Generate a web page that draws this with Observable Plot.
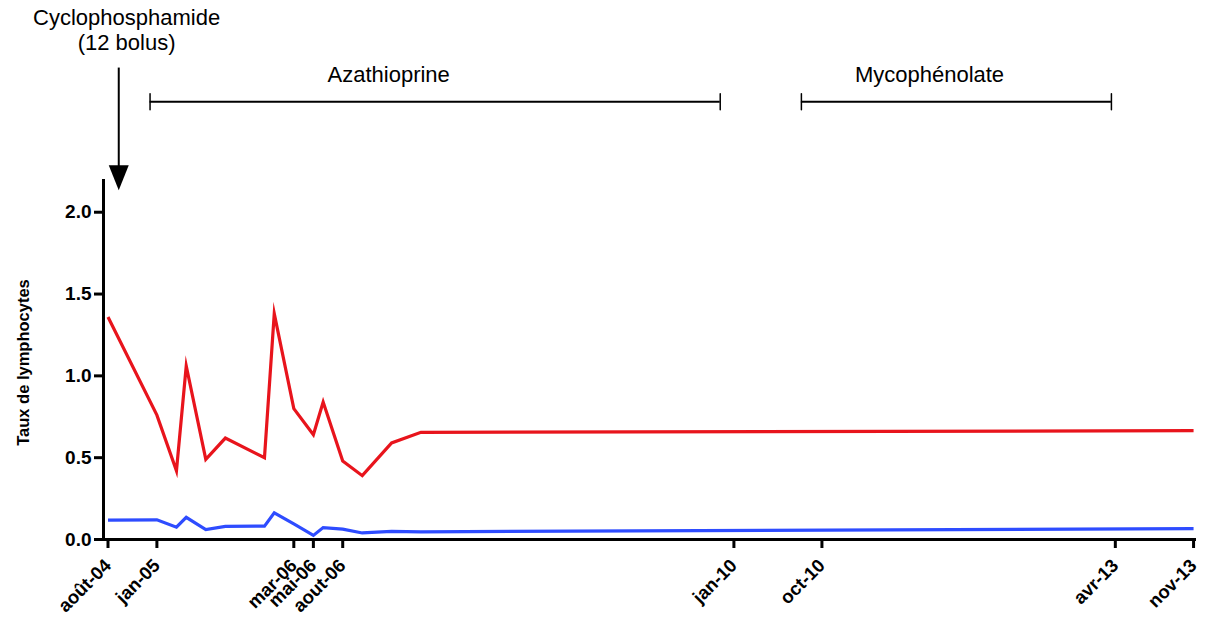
<!DOCTYPE html>
<html>
<head>
<meta charset="utf-8">
<script src="https://cdn.jsdelivr.net/npm/d3@7"></script>
<script src="https://cdn.jsdelivr.net/npm/@observablehq/plot@0.6"></script>
<style>
  html, body { margin: 0; padding: 0; background: #fff; }
  #chart svg { display: block; }
</style>
</head>
<body>
<div id="chart"></div>
<script>
// Months since August 2004
const mois = [0, 5, 7, 8, 10, 12, 16, 17, 19, 21, 22, 24, 26, 29, 32, 111];
const serieRouge = [1.36, 0.76, 0.42, 1.06, 0.49, 0.62, 0.50, 1.38, 0.80, 0.64, 0.84, 0.48, 0.39, 0.59, 0.655, 0.665];
const serieBleue = [0.118, 0.12, 0.075, 0.135, 0.06, 0.08, 0.082, 0.163, 0.095, 0.025, 0.073, 0.063, 0.04, 0.05, 0.047, 0.066];

const tickMois = [0, 5, 19, 21, 24, 64, 73, 103, 111];
const tickLabels = ["août-04", "jan-05", "mar-06", "mai-06", "aout-06", "jan-10", "oct-10", "avr-13", "nov-13"];
const yTicks = [0, 0.5, 1.0, 1.5, 2.0];

// Treatments
const traitements = ["Azathioprine", "Mycophénolate"];
const traitDebut = [4.3, 70.9];
const traitFin = [62.6, 102.6];
const traitLabelX = [28.7, 84.0];

const cycloLabel = "Cyclophosphamide\n(12 bolus)";
const cycloMois = 1.1;
const cycloLabelMois = 1.9;

const xDomain = [-0.46, 111.3];
const yDomain = [0, 2.2];

// annotation levels (in y units, above the plotted frame)
const niveauTexteCyclo = 3.117;
const niveauFlecheHaut = 2.881;
const niveauFlecheBas = 2.134;
const niveauBracket = 2.675;
const niveauTexteTrait = 2.84;

const rouge = "#e8141c";
const bleu = "#2e4cff";

const rows = mois.map((m, i) => ({m, rouge: serieRouge[i], bleu: serieBleue[i]}));
const trt = traitements.map((t, i) => ({t, x1: traitDebut[i], x2: traitFin[i], lx: traitLabelX[i], y: niveauBracket}));
const trtEnds = trt.flatMap(d => [{x: d.x1, y: d.y}, {x: d.x2, y: d.y}]);

const tickShape = {draw(ctx, l) { ctx.moveTo(0, l / 2); ctx.lineTo(0, -l / 2); }};
const headShape = {draw(ctx, l) { ctx.moveTo(0, 0); ctx.lineTo(-10, -l); ctx.lineTo(10, -l); ctx.closePath(); }};

const chart = Plot.plot({
  width: 1205,
  height: 617,
  marginTop: 179,
  marginBottom: 78,
  marginLeft: 103,
  marginRight: 9,
  style: {fontFamily: "'Liberation Sans', Arial, sans-serif", color: "#000", background: "#fff"},
  x: {type: "linear", domain: xDomain},
  y: {type: "linear", domain: yDomain},
  marks: [
    // Y axis
    Plot.axisY({
      ticks: yTicks,
      tickFormat: d => d.toFixed(1),
      tickSize: 9,
      tickPadding: 3,
      strokeWidth: 3,
      fontSize: 19,
      fontWeight: "bold",
      label: null
    }),
    Plot.text(["Taux de lymphocytes"], {
      frameAnchor: "left",
      dx: -80,
      dy: 3,
      rotate: -90,
      fontSize: 16.5,
      fontWeight: "bold",
      textAnchor: "middle"
    }),
    // X axis: tick marks
    Plot.axisX({
      ticks: tickMois,
      tickFormat: () => "",
      tickSize: 9,
      strokeWidth: 3,
      label: null
    }),
    // X axis: rotated labels
    Plot.axisX({
      ticks: tickMois,
      tickFormat: (d) => tickLabels[tickMois.indexOf(d)],
      tickSize: 0,
      tickPadding: 16,
      tickRotate: -45,
      fontSize: 18.5,
      fontWeight: "bold",
      dy: 7,
      dx: 0,
      label: null
    }),
    Plot.ruleX([xDomain[0]], {y1: yDomain[0], y2: yDomain[1], strokeWidth: 3, stroke: "#000"}),
    Plot.ruleY([0], {x1: xDomain[0], x2: xDomain[1], strokeWidth: 3, stroke: "#000"}),
    // Series
    Plot.line(rows, {x: "m", y: "bleu", stroke: bleu, strokeWidth: 3.2, strokeLinejoin: "miter", strokeLinecap: "butt", strokeMiterlimit: 10}),
    Plot.line(rows, {x: "m", y: "rouge", stroke: rouge, strokeWidth: 3.2, strokeLinejoin: "miter", strokeLinecap: "butt", strokeMiterlimit: 10}),
    // Cyclophosphamide annotation
    Plot.text([cycloLabel], {x: cycloLabelMois, y: niveauTexteCyclo, fontSize: 22, lineHeight: 1.13, textAnchor: "middle", fill: "#000"}),
    Plot.ruleX([cycloMois], {y1: niveauFlecheHaut, y2: niveauFlecheBas, stroke: "#000", strokeWidth: 2, insetBottom: 20}),
    Plot.vector([cycloMois], {x: d => d, y: niveauFlecheBas, length: 25, anchor: "start", shape: headShape, fill: "#000", stroke: "none"}),
    // Treatment brackets
    Plot.ruleY(trt, {x1: "x1", x2: "x2", y: "y", stroke: "#000", strokeWidth: 2}),
    Plot.vector(trtEnds, {x: "x", y: "y", length: 16, anchor: "start", shape: tickShape, stroke: "#000", strokeWidth: 1.5}),
    Plot.text(trt, {x: "lx", y: niveauTexteTrait, text: "t", fontSize: 22, textAnchor: "middle", fill: "#000"})
  ]
});
document.getElementById("chart").appendChild(chart);
</script>
</body>
</html>
